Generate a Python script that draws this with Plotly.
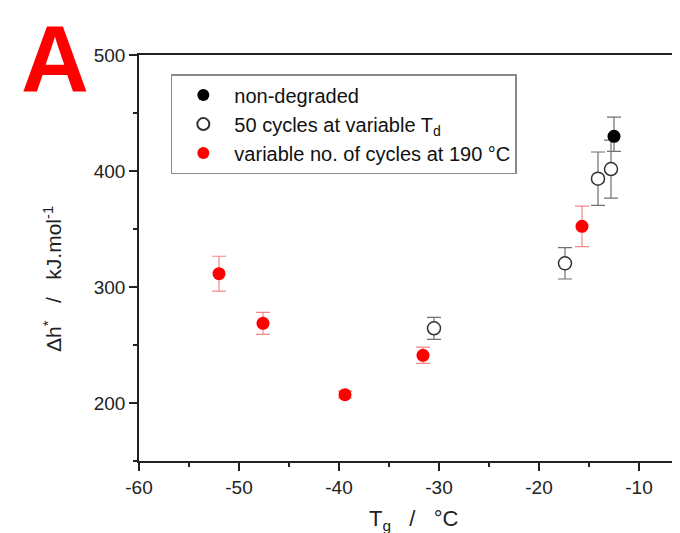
import plotly.graph_objects as go

# ---- data ----
black_x = [-12.5]
black_y = [429.9]
black_err_plus = [16.5]
black_err_minus = [13.0]

open_x = [-30.5, -17.4, -14.1, -12.8]
open_y = [264.4, 320.4, 393.4, 401.7]
open_err = [9.5, 13.5, 23.0, 25.0]

red_x = [-52.0, -47.6, -39.4, -31.6, -15.7]
red_y = [311.5, 268.7, 207.2, 241.1, 352.3]
red_err = [15.0, 9.5, 3.0, 7.0, 17.5]

x_ticks = [-60, -50, -40, -30, -20, -10]
x_ticktext = ["-60", "-50", "-40", "-30", "-20", "-10"]
y_ticks = [200, 300, 400, 500]
y_ticktext = ["200", "300", "400", "500"]

FONT = "Liberation Sans, Arial, sans-serif"
AX = "#222222"

fig = go.Figure()

fig.add_trace(go.Scatter(
    x=open_x, y=open_y, mode="markers",
    name="50 cycles at variable T<sub>d</sub>", legendrank=2,
    marker=dict(symbol="circle", size=13, color="white",
                line=dict(color="#333333", width=1.5)),
    error_y=dict(type="data", array=open_err, visible=True,
                 color="#707070", thickness=1.2, width=7),
))
fig.add_trace(go.Scatter(
    x=red_x, y=red_y, mode="markers",
    name="variable no. of cycles at 190 °C", legendrank=3,
    marker=dict(symbol="circle", size=13, color="#ff0000",
                line=dict(width=0)),
    error_y=dict(type="data", array=red_err, visible=True,
                 color="#f08a8a", thickness=1.2, width=7),
))
fig.add_trace(go.Scatter(
    x=black_x, y=black_y, mode="markers",
    name="non-degraded", legendrank=1,
    marker=dict(symbol="circle", size=13, color="#000000",
                line=dict(width=0)),
    error_y=dict(type="data", symmetric=False, array=black_err_plus,
                 arrayminus=black_err_minus, visible=True,
                 color="#707070", thickness=1.2, width=7),
))

fig.update_layout(
    width=680, height=533,
    margin=dict(l=131, r=0, t=47, b=80),
    paper_bgcolor="white", plot_bgcolor="white",
    font=dict(family=FONT, size=19, color=AX),
    showlegend=True,
    legend=dict(
        x=0.058, y=0.953, xanchor="left", yanchor="top",
        bordercolor="#8a8a8a", borderwidth=1.5, bgcolor="white",
        font=dict(family=FONT, size=20, color="#111111"),
        itemsizing="constant", itemwidth=52,
    ),
    xaxis=dict(
        range=[-60, -5.1], tickvals=x_ticks, ticktext=x_ticktext,
        ticks="outside", ticklen=8, tickwidth=1.5, tickcolor=AX,
        showline=True, linecolor=AX, linewidth=1.5, mirror=True,
        showgrid=False, zeroline=False,
        tickfont=dict(size=19, color=AX),
        minor=dict(ticks="outside", ticklen=4, tickwidth=1.5,
                   tickcolor=AX, dtick=5, tick0=-60, showgrid=False),
    ),
    yaxis=dict(
        range=[150, 500], tickvals=y_ticks, ticktext=y_ticktext,
        ticks="outside", ticklen=8, tickwidth=1.5, tickcolor=AX,
        showline=True, linecolor=AX, linewidth=1.5, mirror=False,
        showgrid=False, zeroline=False,
        tickfont=dict(size=19, color=AX),
        minor=dict(ticks="outside", ticklen=4, tickwidth=1.5,
                   tickcolor=AX, dtick=50, tick0=150, showgrid=False),
    ),
)

sp = "\u00a0" * 3
fig.add_annotation(
    text="T<sub>g</sub>" + sp + "/" + sp + "°C",
    xref="paper", yref="paper", x=0.5, y=-0.146,
    xanchor="center", yanchor="middle", showarrow=False,
    font=dict(family=FONT, size=22, color=AX),
)
fig.add_annotation(
    text="Δh<sup>*</sup>" + sp + "/" + sp + "kJ.mol<sup>-1</sup>",
    xref="paper", yref="paper", x=-0.158, y=0.449,
    xanchor="center", yanchor="middle", showarrow=False, textangle=-90,
    font=dict(family=FONT, size=21, color=AX),
)
fig.add_annotation(
    text="<b>A</b>",
    xref="paper", yref="paper", x=-0.153, y=0.99,
    xanchor="center", yanchor="middle", showarrow=False,
    font=dict(family=FONT, size=94, color="#ff0000"),
)

fig.write_html("out.html")
